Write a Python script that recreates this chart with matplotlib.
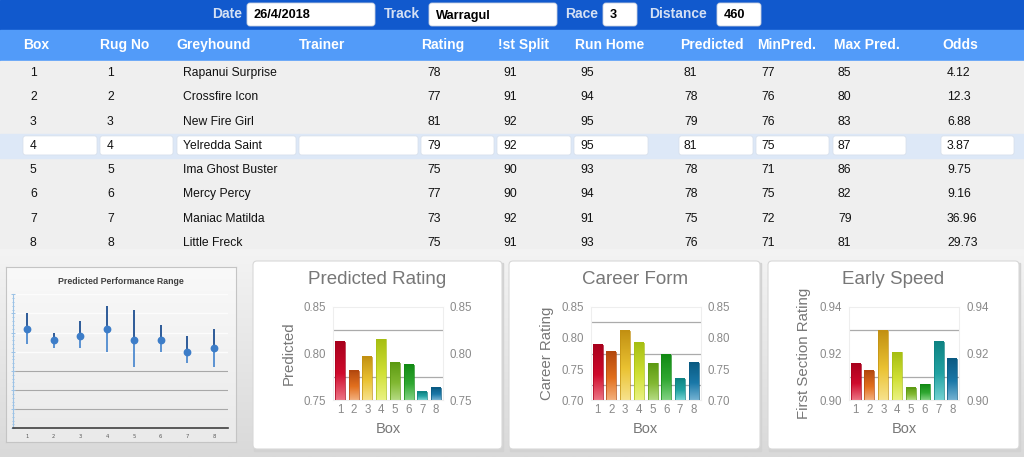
import numpy as np
import matplotlib
matplotlib.use('Agg')
import matplotlib.pyplot as plt
from matplotlib.patches import Rectangle, FancyBboxPatch
from matplotlib.colors import LinearSegmentedColormap

# --- Race header ---
field_labels = ['Date', 'Track', 'Race', 'Distance']
field_values = ['26/4/2018', 'Warragul', '3', '460']

# --- Table data ---
headers = ['Box', 'Rug No', 'Greyhound', 'Trainer', 'Rating', '!st Split',
           'Run Home', 'Predicted', 'MinPred.', 'Max Pred.', 'Odds']
box = [1, 2, 3, 4, 5, 6, 7, 8]
rug_no = [1, 2, 3, 4, 5, 6, 7, 8]
greyhound = ['Rapanui Surprise', 'Crossfire Icon', 'New Fire Girl', 'Yelredda Saint',
             'Ima Ghost Buster', 'Mercy Percy', 'Maniac Matilda', 'Little Freck']
trainer = ['', '', '', '', '', '', '', '']
rating = [78, 77, 81, 79, 75, 77, 73, 75]
first_split = [91, 91, 92, 92, 90, 90, 92, 91]
run_home = [95, 94, 95, 95, 93, 94, 91, 93]
predicted = [81, 78, 79, 81, 78, 78, 75, 76]
min_pred = [77, 76, 76, 75, 71, 75, 72, 71]
max_pred = [85, 80, 83, 87, 86, 82, 79, 81]
odds = ['4.12', '12.3', '6.88', '3.87', '9.75', '9.16', '36.96', '29.73']
selected_row = 3

# --- Bar chart data ---
predicted_rating = [0.812, 0.781, 0.796, 0.815, 0.790, 0.788, 0.759, 0.763]
career_rating = [0.789, 0.778, 0.811, 0.792, 0.759, 0.773, 0.734, 0.760]
first_section = [0.9157, 0.9124, 0.9296, 0.9205, 0.9053, 0.9068, 0.9251, 0.9177]

W, H = 1024, 457
FONT = 'Liberation Sans'
fig = plt.figure(figsize=(W / 100, H / 100), dpi=100)


def rect(x0, y0, x1, y1):
    return [x0 / W, 1 - y1 / H, (x1 - x0) / W, (y1 - y0) / H]


grad = np.linspace(0, 1, 128).reshape(-1, 1)

# --- Background layer in pixel coords ---
bg = fig.add_axes([0, 0, 1, 1])
bg.set_xlim(0, W)
bg.set_ylim(H, 0)
bg.axis('off')

bg.imshow(grad, cmap=LinearSegmentedColormap.from_list('p', ['#F4F4F4', '#D9D9D9']),
          extent=[0, W, H, 248], origin='upper', aspect='auto', zorder=0)
bg.set_xlim(0, W)
bg.set_ylim(H, 0)
bg.add_patch(Rectangle((0, 0), W, 30, color='#1159CD'))
bg.add_patch(Rectangle((0, 30), W, 31, color='#529BF9'))
bg.add_patch(Rectangle((0, 61), W, 187, color='#EFEFEF'))
bg.add_patch(Rectangle((0, 134), W, 24, color='#DDE8F7'))

# --- Top fields ---
label_x = [212, 384, 565, 649]
field_boxes = [(247, 375), (429, 557), (603, 637), (717, 761)]
for lab, val, lx, (b0, b1) in zip(field_labels, field_values, label_x, field_boxes):
    bg.text(lx, 14, lab, fontsize=10, fontweight='bold', color='#D4E0F4',
            family=FONT, va='center')
    bg.add_patch(FancyBboxPatch((b0, 3), b1 - b0, 23,
                                boxstyle='round,pad=0,rounding_size=3',
                                fc='white', ec='#C8D0E0', lw=0.6))
    bg.text(b0 + 7, 15.5, val, fontsize=9.2, fontweight='bold', color='black',
            family=FONT, va='center')

# --- Table ---
header_x = [23, 100, 176, 299, 421, 498, 575, 680, 757, 834, 942]
data_x = [30, 107, 183, 305, 427, 503, 580, 684, 761, 838, 947]
cell_boxes = [(23, 97), (100, 173), (177, 296), (299, 418), (421, 494), (497, 571),
              (574, 648), (679, 753), (756, 829), (833, 906), (941, 1014)]

for h, hx in zip(headers, header_x):
    bg.text(hx, 45, h, fontsize=10, fontweight='bold', color='white',
            family=FONT, va='center')

columns = [box, rug_no, greyhound, trainer, rating, first_split, run_home,
           predicted, min_pred, max_pred, odds]
for i in range(len(box)):
    y = 72.7 + 24.25 * i
    if i == selected_row:
        for b0, b1 in cell_boxes:
            bg.add_patch(FancyBboxPatch((b0, y - 9.5), b1 - b0, 19,
                                        boxstyle='round,pad=0,rounding_size=2.5',
                                        fc='white', ec='#D6DEEA', lw=0.5))
    for col, dx in zip(columns, data_x):
        bg.text(dx, y + 0.5, str(col[i]), fontsize=8.7, color='#111111',
                family=FONT, va='center')

# --- Chart 1: Predicted Performance Range ---
frame = fig.add_axes(rect(6, 267, 236, 442))
frame.imshow(grad, cmap=LinearSegmentedColormap.from_list('f', ['#EAEAEA', '#F9F9F9']),
             extent=[0, 1, 0, 1], origin='lower', aspect='auto')
frame.set_xticks([])
frame.set_yticks([])
for s in frame.spines.values():
    s.set_color('#C4C4C4')
    s.set_linewidth(0.8)
frame.text(121, 281, 'Predicted Performance Range', transform=bg.transData,
           fontsize=6.3, fontweight='bold', color='#404040', family=FONT,
           ha='center', va='center')

ax1 = fig.add_axes(rect(13.3, 294.3, 227.7, 428.3))
ax1.patch.set_alpha(0)
ax1.set_xlim(0.5, 8.5)
ax1.set_ylim(55, 90)
for v in [60, 65, 70, 75, 80, 85, 90]:
    ax1.axhline(v, color='#FCFCFC' if v >= 75 else '#A8A8A8',
                lw=1.0 if v >= 75 else 0.8, zorder=1)
ax1.vlines(box, predicted, max_pred, color='#2D5A98', lw=1.4, zorder=3)
ax1.vlines(box, min_pred, predicted, color='#5A92D2', lw=1.4, zorder=3)
ax1.plot(box, predicted, 'o', color='#3D7DC8', ms=4.6, zorder=4)
ax1.set_yticks(np.arange(55, 91, 5))
ax1.set_yticks(np.arange(55, 91, 1), minor=True)
ax1.tick_params(axis='y', which='both', direction='inout', color='#9DC3E6',
                labelleft=False, length=3, width=0.7)
ax1.tick_params(axis='y', which='minor', length=2)
ax1.set_xticks(box)
ax1.tick_params(axis='x', length=0, labelsize=3.8, labelcolor='#595959', pad=4)
ax1.spines['left'].set_color('#9DC3E6')
ax1.spines['bottom'].set_color('#404040')
ax1.spines['bottom'].set_linewidth(1.2)
ax1.spines['top'].set_visible(False)
ax1.spines['right'].set_visible(False)

# --- Bar chart cards ---
palette = [
    ('#A8001C', '#CF0A2C', '#EC7484'),
    ('#B2480E', '#E2701E', '#F3B07E'),
    ('#C29012', '#EAC232', '#F7E28C'),
    ('#A6BE12', '#D0E034', '#EAF282'),
    ('#5C9A12', '#82B832', '#B4DA82'),
    ('#128A14', '#30A832', '#82D282'),
    ('#0E8282', '#22A2A2', '#74D2D2'),
    ('#0A5A82', '#1A78A8', '#74B2D2'),
]


def gradient_bars(ax, values, base):
    bars = ax.bar(box, [v - base for v in values], bottom=base, width=0.72,
                  color='none', lw=0.5, zorder=3)
    for bar, (dark, mid, light) in zip(bars, palette):
        x0, y0 = bar.get_x(), bar.get_y()
        cmap = LinearSegmentedColormap.from_list(
            'b', [(0, light), (0.45, mid), (1, dark)])
        ax.imshow(grad, cmap=cmap, origin='lower', aspect='auto', zorder=2,
                  extent=[x0, x0 + bar.get_width(), y0, y0 + bar.get_height()])
        bar.set_edgecolor(dark)


cards = [
    dict(card=(253, 261, 502, 449), area=(333, 306.7, 443, 400.3),
         title='Predicted Rating', ylabel='Predicted', ylab_x=289,
         values=predicted_rating, lim=(0.75, 0.85),
         ticks=[0.75, 0.80, 0.85], grid=[0.775, 0.825]),
    dict(card=(509, 261, 760, 449), area=(590.7, 306.7, 700.7, 400.3),
         title='Career Form', ylabel='Career Rating', ylab_x=547,
         values=career_rating, lim=(0.70, 0.85),
         ticks=[0.70, 0.75, 0.80, 0.85], grid=[0.725, 0.775, 0.825]),
    dict(card=(768, 261, 1019, 449), area=(848.7, 306.7, 959.3, 400.3),
         title='Early Speed', ylabel='First Section Rating', ylab_x=804,
         values=first_section, lim=(0.90, 0.94),
         ticks=[0.90, 0.92, 0.94], grid=[0.91, 0.93]),
]

for c in cards:
    cx0, cy0, cx1, cy1 = c['card']
    bg.add_patch(Rectangle((cx0 + 1, cy0 + 2), cx1 - cx0, cy1 - cy0, color='#D2D2D2'))
    bg.add_patch(FancyBboxPatch((cx0, cy0), cx1 - cx0, cy1 - cy0,
                                boxstyle='round,pad=0,rounding_size=4',
                                fc='white', ec='#D8D8D8', lw=0.8))
    ax0, ay0, ax1_, ay1 = c['area']
    mid_x = (ax0 + ax1_) / 2
    bg.text(mid_x - 11, 280, c['title'], fontsize=13.5, color='#777777',
            family=FONT, ha='center', va='center')
    bg.text(c['ylab_x'], 353, c['ylabel'], fontsize=10.8, color='#777777',
            family=FONT, ha='center', va='center', rotation=90)
    bg.text(mid_x, 429, 'Box', fontsize=10.5, color='#777777',
            family=FONT, ha='center', va='center')

    ax = fig.add_axes(rect(ax0, ay0, ax1_, ay1))
    for g in c['grid']:
        ax.axhline(g, color='#ABABAB', lw=0.9, zorder=1)
    gradient_bars(ax, c['values'], c['lim'][0])
    ax.set_xlim(0.5, 8.5)
    ax.set_ylim(*c['lim'])
    ax.set_yticks(c['ticks'])
    ax.set_yticklabels(['{:.2f}'.format(t) for t in c['ticks']])
    ax.set_xticks(box)
    ax.tick_params(axis='y', length=0, labelsize=8.3, labelcolor='#8A8A8A',
                   labelright=True, pad=5)
    ax.tick_params(axis='x', length=0, labelsize=8.3, labelcolor='#8A8A8A', pad=2.5)
    for lab in ax.get_xticklabels() + ax.get_yticklabels():
        lab.set_family(FONT)
    for s in ax.spines.values():
        s.set_color('#EEEEEE')
        s.set_linewidth(0.8)

fig.savefig('out.png', dpi=100)
